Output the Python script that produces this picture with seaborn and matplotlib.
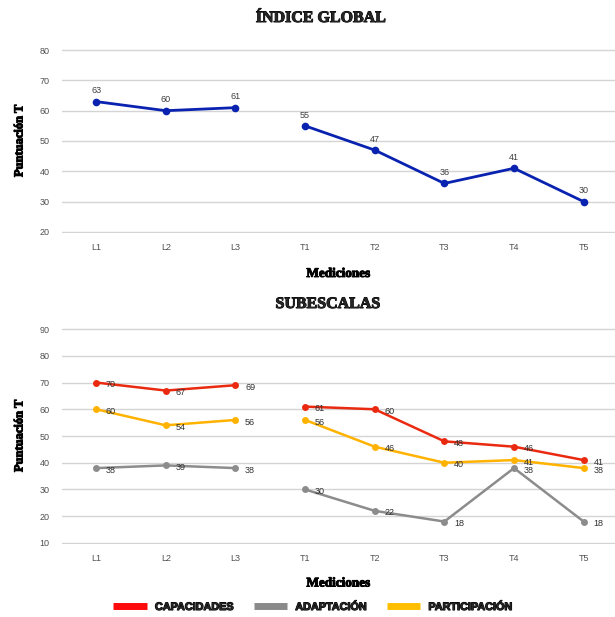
import numpy as np
import pandas as pd
import matplotlib
matplotlib.use("Agg")
import matplotlib.pyplot as plt
import matplotlib.patheffects as pe
from matplotlib.lines import Line2D
import seaborn as sns

# ---- data ----
mediciones = ["L1", "L2", "L3", "T1", "T2", "T3", "T4", "T5"]
fases = ["L", "L", "L", "T", "T", "T", "T", "T"]
indice_global = [63, 60, 61, 55, 47, 36, 41, 30]
capacidades = [70, 67, 69, 61, 60, 48, 46, 41]
adaptacion = [38, 39, 38, 30, 22, 18, 38, 18]
participacion = [60, 54, 56, 56, 46, 40, 41, 38]
series_names = ["CAPACIDADES", "ADAPTACIÓN", "PARTICIPACIÓN"]
top_ticks = [20, 30, 40, 50, 60, 70, 80]
bot_ticks = [10, 20, 30, 40, 50, 60, 70, 80, 90]

blue = "#0a22b0"
colors = {"CAPACIDADES": "#ea2a10", "ADAPTACIÓN": "#8c8c8c", "PARTICIPACIÓN": "#ffb300"}
legend_colors = {"CAPACIDADES": "#ff0a0a", "ADAPTACIÓN": "#8a8a8a", "PARTICIPACIÓN": "#ffbf00"}

sns.set_theme(style="white")
plt.rcParams["font.family"] = ["Liberation Sans", "DejaVu Sans"]

fig = plt.figure(figsize=(6.15, 6.17), dpi=100)
fig.patch.set_facecolor("white")

ax1 = fig.add_axes([62/615, 1-233/617, (615-62)/615, (233-49)/617])
ax2 = fig.add_axes([62/615, 1-544/617, (615-62)/615, (544-328)/617])

heavy = [pe.withStroke(linewidth=0.7, foreground="black")]
serif = ["Liberation Serif", "DejaVu Serif"]

def style_axes(ax, ticks, lo, hi, pad):
    ax.set_ylim(lo - pad, hi + pad)
    ax.set_yticks(ticks)
    ax.set_xlim(-0.49, 7.45)
    ax.grid(axis="y", color="#d4d4d4", linewidth=1.0)
    ax.grid(axis="x", visible=False)
    for s in ax.spines.values():
        s.set_visible(False)
    ax.tick_params(axis="both", length=0, labelsize=6.5, labelcolor="#505050")
    ax.tick_params(axis="y", pad=9)
    ax.tick_params(axis="x", pad=7)
    ax.set_axisbelow(True)
    ax.set_ylabel("Puntuación T", family=serif, fontweight="bold", fontsize=9,
                  color="black", labelpad=10, path_effects=heavy)
    ax.set_xlabel("Mediciones", family=serif, fontweight="bold", fontsize=9.5,
                  color="black", path_effects=heavy)

# ---- top chart ----
df_top = pd.DataFrame({"Medicion": mediciones, "Fase": fases, "Valor": indice_global})
sns.lineplot(data=df_top, x="Medicion", y="Valor", units="Fase", estimator=None,
             color=blue, linewidth=2.0, marker="o", markersize=5.5,
             markeredgewidth=0, ax=ax1, sort=False)
for i, v in enumerate(indice_global):
    ax1.annotate(str(v), (i, v), xytext=(0, 4.5), textcoords="offset points",
                 ha="center", va="bottom", fontsize=6.5, color="#404040")
style_axes(ax1, top_ticks, 20, 80, 0.35)
ax1.xaxis.set_label_coords(0.5, -0.19)

# ---- bottom chart ----
vals = {"CAPACIDADES": capacidades, "ADAPTACIÓN": adaptacion, "PARTICIPACIÓN": participacion}
rows = []
for name in series_names:
    for m, f, v in zip(mediciones, fases, vals[name]):
        rows.append({"Medicion": m, "Fase": f, "Serie": name, "Valor": v})
df_bot = pd.DataFrame(rows)
for name in series_names:
    sub = df_bot[df_bot["Serie"] == name]
    sns.lineplot(data=sub, x="Medicion", y="Valor", units="Fase", estimator=None,
                 color=colors[name], linewidth=1.8, marker="o", markersize=5,
                 markeredgewidth=0, ax=ax2, sort=False)
for name in series_names:
    for i, v in enumerate(vals[name]):
        ax2.annotate(str(v), (i, v), xytext=(7, -1.5), textcoords="offset points",
                     ha="left", va="center", fontsize=6.5, color="#303030")
style_axes(ax2, bot_ticks, 10, 90, 0.4)
ax2.xaxis.set_label_coords(0.5, -0.155)

# ---- titles ----
fig.text(321/615, 1-18/617, "ÍNDICE GLOBAL", ha="center", va="center",
         family=serif, fontweight="bold", fontsize=11.5, path_effects=heavy)
fig.text(328/615, 1-304/617, "SUBESCALAS", ha="center", va="center",
         family=serif, fontweight="bold", fontsize=11.5, path_effects=heavy)

# ---- legend ----
handles = [Line2D([0], [0], color=legend_colors[n], linewidth=5, solid_capstyle="butt")
           for n in series_names]
leg = fig.legend(handles, series_names, loc="center", bbox_to_anchor=(313/615, 1-607/617),
                 ncol=3, frameon=False, handlelength=3.1, handletextpad=0.75,
                 columnspacing=1.8, prop={"family": "Liberation Sans", "weight": "bold", "size": 7.8})
for t in leg.get_texts():
    t.set_path_effects([pe.withStroke(linewidth=0.8, foreground="black")])

fig.savefig("out.png", dpi=100, facecolor="white")
